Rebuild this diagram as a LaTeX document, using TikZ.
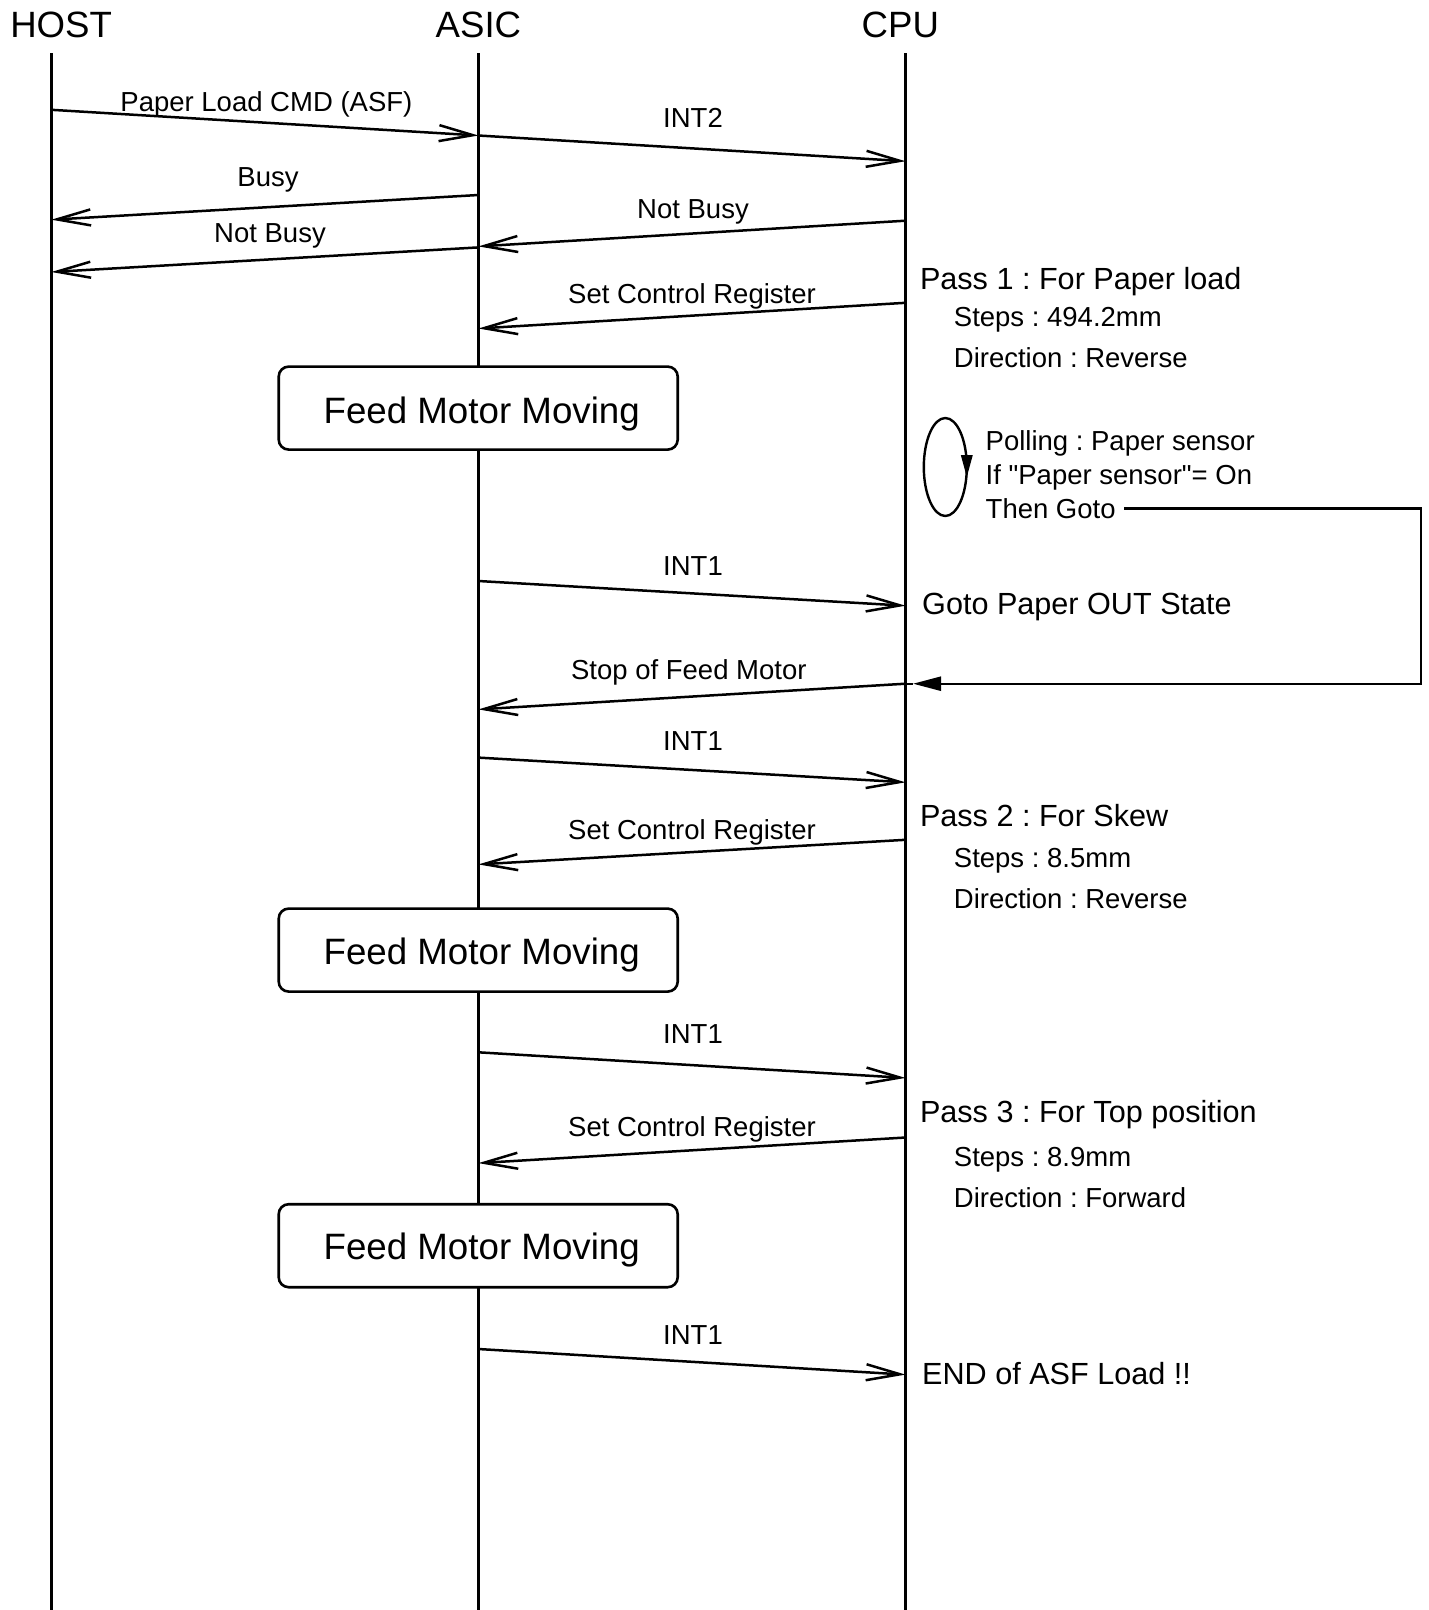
\documentclass[tikz,border=0pt]{standalone}
\usepackage{fontspec}
\setmainfont{Liberation Sans}[Ligatures=TeXOff]
\usetikzlibrary{arrows.meta}
\frenchspacing
\begin{document}
\begin{tikzpicture}[x=1pt,y=-1pt,
  life/.style={line width=2.4pt},
  msg/.style={line width=2.5pt,-{Straight Barb[length=34pt,width=16pt,line width=2.5pt]}},
  hdr/.style={anchor=base,inner sep=0pt,font=\fontsize{36.6}{40}\selectfont},
  lbl/.style={anchor=base,inner sep=0pt,font=\fontsize{27.5}{30}\selectfont},
  note/.style={anchor=base west,inner sep=0pt,font=\fontsize{27.5}{30}\selectfont},
  pass/.style={anchor=base west,inner sep=0pt,font=\fontsize{30.6}{34}\selectfont},
  feed/.style={draw,line width=2.6pt,fill=white,rounded corners=10pt,minimum width=399pt,minimum height=83pt,inner sep=0pt},
  feedtxt/.style={anchor=base,inner sep=0pt,font=\fontsize{36.7}{40}\selectfont}]
\useasboundingbox (0,0) rectangle (1429,1610);
% headers
\node[hdr] (host) at (61.1,37.5) {HOST};
\node[hdr] (asic) at (478.4,37.5) {ASIC};
\node[hdr] (cpu) at (900.3,37.5) {CPU};
% lifelines
\coordinate (Htop) at (51.3,53); \coordinate (Hbot) at (51.3,1610);
\coordinate (Atop) at (478.4,53); \coordinate (Abot) at (478.4,1610);
\coordinate (Ctop) at (905.5,53); \coordinate (Cbot) at (905.5,1610);
\draw[life] (Htop) -- (Hbot);
\draw[life] (Atop) -- (Abot);
\draw[life] (Ctop) -- (Cbot);
% message end points
\coordinate (m1s) at (51.3,109.8);  \coordinate (m1e) at (478.4,135.5);
\coordinate (m2s) at (478.4,135.5); \coordinate (m2e) at (905.5,161.2);
\coordinate (m3s) at (478.4,195);   \coordinate (m3e) at (51.3,219.7);
\coordinate (m4s) at (905.5,220.7); \coordinate (m4e) at (478.4,246.4);
\coordinate (m5s) at (478.4,247.4); \coordinate (m5e) at (51.3,272);
\coordinate (m6s) at (905.5,302.8); \coordinate (m6e) at (478.4,328.5);
\coordinate (m7s) at (478.4,581);   \coordinate (m7e) at (905.5,605.7);
\coordinate (m8s) at (905.5,683.7); \coordinate (m8e) at (478.4,709.4);
\coordinate (m9s) at (478.4,757.6); \coordinate (m9e) at (905.5,782.3);
\coordinate (m10s) at (905.5,839.8); \coordinate (m10e) at (478.4,864.4);
\coordinate (m11s) at (478.4,1052.3); \coordinate (m11e) at (905.5,1077.9);
\coordinate (m12s) at (905.5,1137.5); \coordinate (m12e) at (478.4,1163.1);
\coordinate (m13s) at (478.4,1349); \coordinate (m13e) at (905.5,1374.6);
\foreach \i in {1,...,13} { \draw[msg] (m\i s) -- (m\i e); }
% message labels
\node[lbl] (l1) at (266.4,111) {Paper Load CMD (ASF)};
\node[lbl] (l2) at (693,127.5) {INT2};
\node[lbl] (l3) at (268,186) {Busy};
\node[lbl] (l4) at (693,218.5) {Not Busy};
\node[lbl] (l5) at (270,242) {Not Busy};
\node[lbl] (l6) at (692,303) {Set Control Register};
\node[lbl] (l7) at (693,575) {INT1};
\node[lbl] (l8) at (688.8,679.5) {Stop of Feed Motor};
\node[lbl] (l9) at (693,750) {INT1};
\node[lbl] (l10) at (692,839.4) {Set Control Register};
\node[lbl] (l11) at (693,1043.7) {INT1};
\node[lbl] (l12) at (692,1136) {Set Control Register};
\node[lbl] (l13) at (693,1344.5) {INT1};
% feed boxes
\node[feed] (b1) at (478.2,408.1) {};
\node[feedtxt] (t1) at (481.7,423.5) {Feed Motor Moving};
\node[feed] (b2) at (478.2,950.1) {};
\node[feedtxt] (t2) at (481.7,964.8) {Feed Motor Moving};
\node[feed] (b3) at (478.2,1245.7) {};
\node[feedtxt] (t3) at (481.7,1259.5) {Feed Motor Moving};
% pass notes
\node[pass] (p1) at (919.8,289) {Pass 1 : For Paper load};
\node[note] (p1a) at (953.7,326) {Steps : 494.2mm};
\node[note] (p1b) at (953.7,367.2) {Direction : Reverse};
\node[pass] (p2) at (919.8,826) {Pass 2 : For Skew};
\node[note] (p2a) at (953.7,867) {Steps : 8.5mm};
\node[note] (p2b) at (953.7,908) {Direction : Reverse};
\node[pass] (p3) at (919.8,1122.8) {Pass 3 : For Top position};
\node[note] (p3a) at (953.7,1166) {Steps : 8.9mm};
\node[note] (p3b) at (953.7,1207) {Direction : Forward};
% polling
\draw[line width=2.4pt] (945.3,467) ellipse [x radius=21.5, y radius=49];
\fill (960.8,455) -- (972.8,455) -- (966.8,477) -- cycle;
\node[note] (q1) at (985.5,450.3) {Polling : Paper sensor};
\node[note] (q2) at (985.5,484.5) {If "Paper sensor"= On};
\node[note] (q3) at (985.5,518.5) {Then Goto};
\node[pass] (gout) at (922,614) {Goto Paper OUT State};
\node[pass] (endl) at (922,1384.6) {END of ASF Load !!};
% goto connector
\coordinate (g0) at (1124,508.5);
\coordinate (g1) at (1420.7,508.5);
\coordinate (g2) at (1420.7,683.7);
\coordinate (g3) at (913,683.7);
\coordinate (g4) at (905.5,683.7);
\draw[line width=2.4pt,-{Triangle[length=28pt,width=14pt]}] (g0) -- (g1) -- (g2) -- (g3);
\draw[line width=2.4pt] (g3) -- (g4);
\end{tikzpicture}
\end{document}
